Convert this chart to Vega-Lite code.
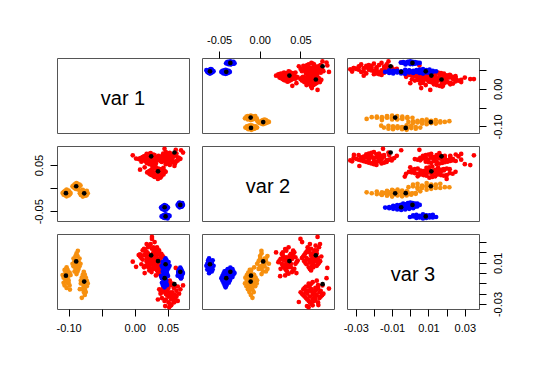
{
"$schema": "https://vega.github.io/schema/vega-lite/v6.json",
"padding": {"left": 32, "top": 33, "right": 5, "bottom": 5},
"columns": 3,
"spacing": 13,
"bounds": "flush",
"datasets": {
"pts": [
{"v1":0.006,"v2":0.063,"v3":0.0175,"g":"r"},{"v1":0.010,"v2":0.0658,"v3":0.0085,"g":"r"},{"v1":0.010,"v2":0.0574,"v3":0.0145,"g":"r"},{"v1":0.014,"v2":0.0686,"v3":0.0175,"g":"r"},{"v1":0.014,"v2":0.0602,"v3":0.0055,"g":"r"},{"v1":0.014,"v2":0.063,"v3":0.0235,"g":"r"},{"v1":0.018,"v2":0.0714,"v3":0.0145,"g":"r"},{"v1":0.018,"v2":0.0546,"v3":0.0175,"g":"r"},{"v1":0.018,"v2":0.0658,"v3":0.0115,"g":"r"},{"v1":0.018,"v2":0.0602,"v3":0.0205,"g":"r"},{"v1":0.022,"v2":0.0742,"v3":0.0115,"g":"r"},{"v1":0.022,"v2":0.0518,"v3":0.0145,"g":"r"},{"v1":0.022,"v2":0.063,"v3":0.0025,"g":"r"},{"v1":0.022,"v2":0.0686,"v3":0.0265,"g":"r"},{"v1":0.026,"v2":0.0574,"v3":0.0085,"g":"r"},{"v1":0.026,"v2":0.0686,"v3":0.0115,"g":"r"},{"v1":0.026,"v2":0.0602,"v3":0.0235,"g":"r"},{"v1":0.026,"v2":0.0658,"v3":0.0145,"g":"r"},{"v1":0.030,"v2":0.0546,"v3":0.0115,"g":"r"},{"v1":0.030,"v2":0.0574,"v3":0.0205,"g":"r"},{"v1":0.030,"v2":0.0714,"v3":0.0085,"g":"r"},{"v1":0.034,"v2":0.0602,"v3":0.0205,"g":"r"},{"v1":0.034,"v2":0.0658,"v3":0.0055,"g":"r"},{"v1":0.038,"v2":0.063,"v3":0.0175,"g":"r"},
{"v1":0.024,"v2":0.0616,"v3":0.004,"g":"r"},{"v1":0.028,"v2":0.07,"v3":0.007,"g":"r"},{"v1":0.016,"v2":0.0644,"v3":0.007,"g":"r"},{"v1":0.032,"v2":0.0616,"v3":0.010,"g":"r"},{"v1":0.020,"v2":0.0728,"v3":0.010,"g":"r"},{"v1":0.024,"v2":0.056,"v3":0.010,"g":"r"},{"v1":0.036,"v2":0.0644,"v3":0.013,"g":"r"},{"v1":0.012,"v2":0.0616,"v3":0.013,"g":"r"},{"v1":0.028,"v2":0.0672,"v3":0.013,"g":"r"},{"v1":0.020,"v2":0.0588,"v3":0.013,"g":"r"},{"v1":0.040,"v2":0.0672,"v3":0.016,"g":"r"},{"v1":0.008,"v2":0.0644,"v3":0.016,"g":"r"},{"v1":0.024,"v2":0.0756,"v3":0.016,"g":"r"},{"v1":0.032,"v2":0.0532,"v3":0.016,"g":"r"},{"v1":0.016,"v2":0.07,"v3":0.019,"g":"r"},{"v1":0.032,"v2":0.0672,"v3":0.019,"g":"r"},{"v1":0.020,"v2":0.056,"v3":0.019,"g":"r"},{"v1":0.028,"v2":0.0644,"v3":0.019,"g":"r"},{"v1":0.012,"v2":0.0672,"v3":0.022,"g":"r"},{"v1":0.016,"v2":0.0588,"v3":0.022,"g":"r"},{"v1":0.036,"v2":0.07,"v3":0.022,"g":"r"},{"v1":0.020,"v2":0.0588,"v3":0.025,"g":"r"},{"v1":0.028,"v2":0.0728,"v3":0.025,"g":"r"},{"v1":0.024,"v2":0.0616,"v3":0.028,"g":"r"},
{"v1":0.032,"v2":0.0312,"v3":-0.0023,"g":"r"},{"v1":0.0353,"v2":0.0396,"v3":0.0009,"g":"r"},{"v1":0.0254,"v2":0.034,"v3":0.0009,"g":"r"},{"v1":0.0386,"v2":0.0312,"v3":0.0041,"g":"r"},{"v1":0.0287,"v2":0.0424,"v3":0.0041,"g":"r"},{"v1":0.032,"v2":0.0256,"v3":0.0041,"g":"r"},{"v1":0.0419,"v2":0.034,"v3":0.0073,"g":"r"},{"v1":0.0221,"v2":0.0312,"v3":0.0073,"g":"r"},{"v1":0.0353,"v2":0.0368,"v3":0.0073,"g":"r"},{"v1":0.0287,"v2":0.0284,"v3":0.0073,"g":"r"},{"v1":0.0452,"v2":0.0368,"v3":0.0105,"g":"r"},{"v1":0.0188,"v2":0.034,"v3":0.0105,"g":"r"},{"v1":0.032,"v2":0.0452,"v3":0.0105,"g":"r"},{"v1":0.0386,"v2":0.0228,"v3":0.0105,"g":"r"},{"v1":0.0254,"v2":0.0396,"v3":0.0137,"g":"r"},{"v1":0.0386,"v2":0.0368,"v3":0.0137,"g":"r"},{"v1":0.0287,"v2":0.0256,"v3":0.0137,"g":"r"},{"v1":0.0353,"v2":0.034,"v3":0.0137,"g":"r"},{"v1":0.0221,"v2":0.0368,"v3":0.0169,"g":"r"},{"v1":0.0254,"v2":0.0284,"v3":0.0169,"g":"r"},{"v1":0.0419,"v2":0.0396,"v3":0.0169,"g":"r"},{"v1":0.0287,"v2":0.0284,"v3":0.0201,"g":"r"},{"v1":0.0353,"v2":0.0424,"v3":0.0201,"g":"r"},{"v1":0.032,"v2":0.0312,"v3":0.0233,"g":"r"},
{"v1":0.0303,"v2":0.0242,"v3":0.0121,"g":"r"},{"v1":0.0402,"v2":0.027,"v3":0.0089,"g":"r"},{"v1":0.0336,"v2":0.027,"v3":0.0185,"g":"r"},{"v1":0.0303,"v2":0.0298,"v3":0.0057,"g":"r"},{"v1":0.0435,"v2":0.0298,"v3":0.0153,"g":"r"},{"v1":0.0237,"v2":0.0298,"v3":0.0121,"g":"r"},{"v1":0.0336,"v2":0.0326,"v3":0.0025,"g":"r"},{"v1":0.0303,"v2":0.0326,"v3":0.0217,"g":"r"},{"v1":0.0369,"v2":0.0326,"v3":0.0089,"g":"r"},{"v1":0.027,"v2":0.0326,"v3":0.0153,"g":"r"},{"v1":0.0369,"v2":0.0354,"v3":-0.0007,"g":"r"},{"v1":0.0336,"v2":0.0354,"v3":0.0249,"g":"r"},{"v1":0.0468,"v2":0.0354,"v3":0.0121,"g":"r"},{"v1":0.0204,"v2":0.0354,"v3":0.0057,"g":"r"},{"v1":0.0402,"v2":0.0382,"v3":0.0185,"g":"r"},{"v1":0.0369,"v2":0.0382,"v3":0.0057,"g":"r"},{"v1":0.0237,"v2":0.0382,"v3":0.0153,"g":"r"},{"v1":0.0336,"v2":0.0382,"v3":0.0089,"g":"r"},{"v1":0.0369,"v2":0.041,"v3":0.0217,"g":"r"},{"v1":0.027,"v2":0.041,"v3":0.0185,"g":"r"},{"v1":0.0402,"v2":0.041,"v3":0.0025,"g":"r"},{"v1":0.027,"v2":0.0438,"v3":0.0153,"g":"r"},{"v1":0.0435,"v2":0.0438,"v3":0.0089,"g":"r"},{"v1":0.0303,"v2":0.0466,"v3":0.0121,"g":"r"},
{"v1":0.047,"v2":0.0518,"v3":-0.020,"g":"r"},{"v1":0.059,"v2":0.0551,"v3":-0.0228,"g":"r"},{"v1":0.051,"v2":0.0551,"v3":-0.0144,"g":"r"},{"v1":0.047,"v2":0.0584,"v3":-0.0256,"g":"r"},{"v1":0.063,"v2":0.0584,"v3":-0.0172,"g":"r"},{"v1":0.039,"v2":0.0584,"v3":-0.020,"g":"r"},{"v1":0.051,"v2":0.0617,"v3":-0.0284,"g":"r"},{"v1":0.047,"v2":0.0617,"v3":-0.0116,"g":"r"},{"v1":0.055,"v2":0.0617,"v3":-0.0228,"g":"r"},{"v1":0.043,"v2":0.0617,"v3":-0.0172,"g":"r"},{"v1":0.055,"v2":0.065,"v3":-0.0312,"g":"r"},{"v1":0.051,"v2":0.065,"v3":-0.0088,"g":"r"},{"v1":0.067,"v2":0.065,"v3":-0.020,"g":"r"},{"v1":0.035,"v2":0.065,"v3":-0.0256,"g":"r"},{"v1":0.059,"v2":0.0683,"v3":-0.0144,"g":"r"},{"v1":0.055,"v2":0.0683,"v3":-0.0256,"g":"r"},{"v1":0.039,"v2":0.0683,"v3":-0.0172,"g":"r"},{"v1":0.051,"v2":0.0683,"v3":-0.0228,"g":"r"},{"v1":0.055,"v2":0.0716,"v3":-0.0116,"g":"r"},{"v1":0.043,"v2":0.0716,"v3":-0.0144,"g":"r"},{"v1":0.059,"v2":0.0716,"v3":-0.0284,"g":"r"},{"v1":0.043,"v2":0.0749,"v3":-0.0172,"g":"r"},{"v1":0.063,"v2":0.0749,"v3":-0.0228,"g":"r"},{"v1":0.047,"v2":0.0782,"v3":-0.020,"g":"r"},
{"v1":0.037,"v2":0.0634,"v3":-0.0158,"g":"r"},{"v1":0.041,"v2":0.0667,"v3":-0.0242,"g":"r"},{"v1":0.041,"v2":0.0568,"v3":-0.0186,"g":"r"},{"v1":0.045,"v2":0.07,"v3":-0.0158,"g":"r"},{"v1":0.045,"v2":0.0601,"v3":-0.027,"g":"r"},{"v1":0.045,"v2":0.0634,"v3":-0.0102,"g":"r"},{"v1":0.049,"v2":0.0733,"v3":-0.0186,"g":"r"},{"v1":0.049,"v2":0.0535,"v3":-0.0158,"g":"r"},{"v1":0.049,"v2":0.0667,"v3":-0.0214,"g":"r"},{"v1":0.049,"v2":0.0601,"v3":-0.013,"g":"r"},{"v1":0.053,"v2":0.0766,"v3":-0.0214,"g":"r"},{"v1":0.053,"v2":0.0502,"v3":-0.0186,"g":"r"},{"v1":0.053,"v2":0.0634,"v3":-0.0298,"g":"r"},{"v1":0.053,"v2":0.07,"v3":-0.0074,"g":"r"},{"v1":0.057,"v2":0.0568,"v3":-0.0242,"g":"r"},{"v1":0.057,"v2":0.07,"v3":-0.0214,"g":"r"},{"v1":0.057,"v2":0.0601,"v3":-0.0102,"g":"r"},{"v1":0.057,"v2":0.0667,"v3":-0.0186,"g":"r"},{"v1":0.061,"v2":0.0535,"v3":-0.0214,"g":"r"},{"v1":0.061,"v2":0.0568,"v3":-0.013,"g":"r"},{"v1":0.061,"v2":0.0733,"v3":-0.0242,"g":"r"},{"v1":0.065,"v2":0.0601,"v3":-0.013,"g":"r"},{"v1":0.065,"v2":0.0667,"v3":-0.027,"g":"r"},{"v1":0.069,"v2":0.0634,"v3":-0.0158,"g":"r"},
{"v1":0.052,"v2":0.060,"v3":-0.033,"g":"r"},{"v1":0.055,"v2":0.072,"v3":-0.031,"g":"r"},{"v1":0.026,"v2":0.050,"v3":0.033,"g":"r"},{"v1":0.030,"v2":0.052,"v3":0.030,"g":"r"},{"v1":-0.003,"v2":0.071,"v3":0.011,"g":"r"},{"v1":0.002,"v2":0.064,"v3":0.006,"g":"r"},{"v1":0.073,"v2":0.077,"v3":-0.012,"g":"r"},{"v1":0.070,"v2":0.082,"v3":-0.005,"g":"r"},{"v1":0.026,"v2":0.071,"v3":0.035,"g":"r"},{"v1":0.046,"v2":0.058,"v3":-0.032,"g":"r"},{"v1":0.015,"v2":0.045,"v3":0.0,"g":"r"},{"v1":0.040,"v2":0.025,"v3":-0.003,"g":"r"},{"v1":0.062,"v2":0.083,"v3":0.005,"g":"r"},{"v1":0.018,"v2":0.074,"v3":0.028,"g":"r"},{"v1":0.008,"v2":0.040,"v3":0.018,"g":"r"},{"v1":0.060,"v2":0.048,"v3":-0.028,"g":"r"},{"v1":0.035,"v2":0.020,"v3":0.020,"g":"r"},{"v1":0.045,"v2":0.085,"v3":-0.015,"g":"r"},
{"v1":-0.109,"v2":-0.0105,"v3":-0.002,"g":"o"},{"v1":-0.1075,"v2":-0.0087,"v3":-0.0095,"g":"o"},{"v1":-0.1075,"v2":-0.0141,"v3":-0.0045,"g":"o"},{"v1":-0.106,"v2":-0.0069,"v3":-0.002,"g":"o"},{"v1":-0.106,"v2":-0.0123,"v3":-0.012,"g":"o"},{"v1":-0.106,"v2":-0.0105,"v3":0.003,"g":"o"},{"v1":-0.1045,"v2":-0.0051,"v3":-0.0045,"g":"o"},{"v1":-0.1045,"v2":-0.0159,"v3":-0.002,"g":"o"},{"v1":-0.1045,"v2":-0.0087,"v3":-0.007,"g":"o"},{"v1":-0.1045,"v2":-0.0123,"v3":0.0005,"g":"o"},{"v1":-0.103,"v2":-0.0033,"v3":-0.007,"g":"o"},{"v1":-0.103,"v2":-0.0177,"v3":-0.0045,"g":"o"},{"v1":-0.103,"v2":-0.0105,"v3":-0.0145,"g":"o"},{"v1":-0.103,"v2":-0.0069,"v3":0.0055,"g":"o"},{"v1":-0.1015,"v2":-0.0141,"v3":-0.0095,"g":"o"},{"v1":-0.1015,"v2":-0.0069,"v3":-0.007,"g":"o"},{"v1":-0.1015,"v2":-0.0123,"v3":0.003,"g":"o"},{"v1":-0.1015,"v2":-0.0087,"v3":-0.0045,"g":"o"},{"v1":-0.1,"v2":-0.0159,"v3":-0.007,"g":"o"},{"v1":-0.1,"v2":-0.0141,"v3":0.0005,"g":"o"},{"v1":-0.1,"v2":-0.0051,"v3":-0.0095,"g":"o"},{"v1":-0.0985,"v2":-0.0123,"v3":0.0005,"g":"o"},{"v1":-0.0985,"v2":-0.0087,"v3":-0.012,"g":"o"},{"v1":-0.097,"v2":-0.0105,"v3":-0.002,"g":"o"},
{"v1":-0.088,"v2":0.0022,"v3":-0.001,"g":"o"},{"v1":-0.0865,"v2":0.0076,"v3":0.0015,"g":"o"},{"v1":-0.091,"v2":0.004,"v3":0.0015,"g":"o"},{"v1":-0.085,"v2":0.0022,"v3":0.004,"g":"o"},{"v1":-0.0895,"v2":0.0094,"v3":0.004,"g":"o"},{"v1":-0.088,"v2":-0.0014,"v3":0.004,"g":"o"},{"v1":-0.0835,"v2":0.004,"v3":0.0065,"g":"o"},{"v1":-0.0925,"v2":0.0022,"v3":0.0065,"g":"o"},{"v1":-0.0865,"v2":0.0058,"v3":0.0065,"g":"o"},{"v1":-0.0895,"v2":0.0004,"v3":0.0065,"g":"o"},{"v1":-0.082,"v2":0.0058,"v3":0.009,"g":"o"},{"v1":-0.094,"v2":0.004,"v3":0.009,"g":"o"},{"v1":-0.088,"v2":0.0112,"v3":0.009,"g":"o"},{"v1":-0.085,"v2":-0.0032,"v3":0.009,"g":"o"},{"v1":-0.091,"v2":0.0076,"v3":0.0115,"g":"o"},{"v1":-0.085,"v2":0.0058,"v3":0.0115,"g":"o"},{"v1":-0.0895,"v2":-0.0014,"v3":0.0115,"g":"o"},{"v1":-0.0865,"v2":0.004,"v3":0.0115,"g":"o"},{"v1":-0.0925,"v2":0.0058,"v3":0.014,"g":"o"},{"v1":-0.091,"v2":0.0004,"v3":0.014,"g":"o"},{"v1":-0.0835,"v2":0.0076,"v3":0.014,"g":"o"},{"v1":-0.0895,"v2":0.0004,"v3":0.0165,"g":"o"},{"v1":-0.0865,"v2":0.0094,"v3":0.0165,"g":"o"},{"v1":-0.088,"v2":0.0022,"v3":0.019,"g":"o"},
{"v1":-0.0785,"v2":-0.0182,"v3":-0.010,"g":"o"},{"v1":-0.074,"v2":-0.0164,"v3":-0.0128,"g":"o"},{"v1":-0.077,"v2":-0.0164,"v3":-0.0044,"g":"o"},{"v1":-0.0785,"v2":-0.0146,"v3":-0.0156,"g":"o"},{"v1":-0.0725,"v2":-0.0146,"v3":-0.0072,"g":"o"},{"v1":-0.0815,"v2":-0.0146,"v3":-0.010,"g":"o"},{"v1":-0.077,"v2":-0.0128,"v3":-0.0184,"g":"o"},{"v1":-0.0785,"v2":-0.0128,"v3":-0.0016,"g":"o"},{"v1":-0.0755,"v2":-0.0128,"v3":-0.0128,"g":"o"},{"v1":-0.08,"v2":-0.0128,"v3":-0.0072,"g":"o"},{"v1":-0.0755,"v2":-0.011,"v3":-0.0212,"g":"o"},{"v1":-0.077,"v2":-0.011,"v3":0.0012,"g":"o"},{"v1":-0.071,"v2":-0.011,"v3":-0.010,"g":"o"},{"v1":-0.083,"v2":-0.011,"v3":-0.0156,"g":"o"},{"v1":-0.074,"v2":-0.0092,"v3":-0.0044,"g":"o"},{"v1":-0.0755,"v2":-0.0092,"v3":-0.0156,"g":"o"},{"v1":-0.0815,"v2":-0.0092,"v3":-0.0072,"g":"o"},{"v1":-0.077,"v2":-0.0092,"v3":-0.0128,"g":"o"},{"v1":-0.0755,"v2":-0.0074,"v3":-0.0016,"g":"o"},{"v1":-0.08,"v2":-0.0074,"v3":-0.0044,"g":"o"},{"v1":-0.074,"v2":-0.0074,"v3":-0.0184,"g":"o"},{"v1":-0.08,"v2":-0.0056,"v3":-0.0072,"g":"o"},{"v1":-0.0725,"v2":-0.0056,"v3":-0.0128,"g":"o"},{"v1":-0.0785,"v2":-0.0038,"v3":-0.010,"g":"o"},
{"v1":-0.086,"v2":0.002,"v3":0.0215,"g":"o"},{"v1":-0.080,"v2":-0.009,"v3":-0.024,"g":"o"},{"v1":-0.098,"v2":-0.013,"v3":-0.016,"g":"o"},
{"v1":0.0398,"v2":-0.042,"v3":-0.0028,"g":"b"},{"v1":0.0411,"v2":-0.0407,"v3":-0.0094,"g":"b"},{"v1":0.0411,"v2":-0.0446,"v3":-0.005,"g":"b"},{"v1":0.0424,"v2":-0.0394,"v3":-0.0028,"g":"b"},{"v1":0.0424,"v2":-0.0433,"v3":-0.0116,"g":"b"},{"v1":0.0424,"v2":-0.042,"v3":0.0016,"g":"b"},{"v1":0.0437,"v2":-0.0381,"v3":-0.005,"g":"b"},{"v1":0.0437,"v2":-0.0459,"v3":-0.0028,"g":"b"},{"v1":0.0437,"v2":-0.0407,"v3":-0.0072,"g":"b"},{"v1":0.0437,"v2":-0.0433,"v3":-0.0006,"g":"b"},{"v1":0.045,"v2":-0.0368,"v3":-0.0072,"g":"b"},{"v1":0.045,"v2":-0.0472,"v3":-0.005,"g":"b"},{"v1":0.045,"v2":-0.042,"v3":-0.0138,"g":"b"},{"v1":0.045,"v2":-0.0394,"v3":0.0038,"g":"b"},{"v1":0.0463,"v2":-0.0446,"v3":-0.0094,"g":"b"},{"v1":0.0463,"v2":-0.0394,"v3":-0.0072,"g":"b"},{"v1":0.0463,"v2":-0.0433,"v3":0.0016,"g":"b"},{"v1":0.0463,"v2":-0.0407,"v3":-0.005,"g":"b"},{"v1":0.0476,"v2":-0.0459,"v3":-0.0072,"g":"b"},{"v1":0.0476,"v2":-0.0446,"v3":-0.0006,"g":"b"},{"v1":0.0476,"v2":-0.0381,"v3":-0.0094,"g":"b"},{"v1":0.0489,"v2":-0.0433,"v3":-0.0006,"g":"b"},{"v1":0.0489,"v2":-0.0407,"v3":-0.0116,"g":"b"},{"v1":0.0502,"v2":-0.042,"v3":-0.0028,"g":"b"},
{"v1":0.0466,"v2":-0.0623,"v3":-0.0002,"g":"b"},{"v1":0.0481,"v2":-0.059,"v3":0.0016,"g":"b"},{"v1":0.0436,"v2":-0.0612,"v3":0.0016,"g":"b"},{"v1":0.0496,"v2":-0.0623,"v3":0.0034,"g":"b"},{"v1":0.0451,"v2":-0.0579,"v3":0.0034,"g":"b"},{"v1":0.0466,"v2":-0.0645,"v3":0.0034,"g":"b"},{"v1":0.0511,"v2":-0.0612,"v3":0.0052,"g":"b"},{"v1":0.0421,"v2":-0.0623,"v3":0.0052,"g":"b"},{"v1":0.0481,"v2":-0.0601,"v3":0.0052,"g":"b"},{"v1":0.0451,"v2":-0.0634,"v3":0.0052,"g":"b"},{"v1":0.0526,"v2":-0.0601,"v3":0.007,"g":"b"},{"v1":0.0406,"v2":-0.0612,"v3":0.007,"g":"b"},{"v1":0.0466,"v2":-0.0568,"v3":0.007,"g":"b"},{"v1":0.0496,"v2":-0.0656,"v3":0.007,"g":"b"},{"v1":0.0436,"v2":-0.059,"v3":0.0088,"g":"b"},{"v1":0.0496,"v2":-0.0601,"v3":0.0088,"g":"b"},{"v1":0.0451,"v2":-0.0645,"v3":0.0088,"g":"b"},{"v1":0.0481,"v2":-0.0612,"v3":0.0088,"g":"b"},{"v1":0.0421,"v2":-0.0601,"v3":0.0106,"g":"b"},{"v1":0.0436,"v2":-0.0634,"v3":0.0106,"g":"b"},{"v1":0.0511,"v2":-0.059,"v3":0.0106,"g":"b"},{"v1":0.0451,"v2":-0.0634,"v3":0.0124,"g":"b"},{"v1":0.0481,"v2":-0.0579,"v3":0.0124,"g":"b"},{"v1":0.0466,"v2":-0.0623,"v3":0.0142,"g":"b"},
{"v1":0.0678,"v2":-0.0414,"v3":0,"g":"b"},{"v1":0.0708,"v2":-0.0401,"v3":-0.0013,"g":"b"},{"v1":0.0688,"v2":-0.0401,"v3":0.0026,"g":"b"},{"v1":0.0678,"v2":-0.0388,"v3":-0.0026,"g":"b"},{"v1":0.0718,"v2":-0.0388,"v3":0.0013,"g":"b"},{"v1":0.0658,"v2":-0.0388,"v3":0,"g":"b"},{"v1":0.0688,"v2":-0.0375,"v3":-0.0039,"g":"b"},{"v1":0.0678,"v2":-0.0375,"v3":0.0039,"g":"b"},{"v1":0.0698,"v2":-0.0375,"v3":-0.0013,"g":"b"},{"v1":0.0668,"v2":-0.0375,"v3":0.0013,"g":"b"},{"v1":0.0698,"v2":-0.0362,"v3":-0.0052,"g":"b"},{"v1":0.0688,"v2":-0.0362,"v3":0.0052,"g":"b"},{"v1":0.0728,"v2":-0.0362,"v3":0,"g":"b"},{"v1":0.0648,"v2":-0.0362,"v3":-0.0026,"g":"b"},{"v1":0.0708,"v2":-0.0349,"v3":0.0026,"g":"b"},{"v1":0.0698,"v2":-0.0349,"v3":-0.0026,"g":"b"},{"v1":0.0658,"v2":-0.0349,"v3":0.0013,"g":"b"},{"v1":0.0688,"v2":-0.0349,"v3":-0.0013,"g":"b"},{"v1":0.0698,"v2":-0.0336,"v3":0.0039,"g":"b"},{"v1":0.0668,"v2":-0.0336,"v3":0.0026,"g":"b"},{"v1":0.0708,"v2":-0.0336,"v3":-0.0039,"g":"b"},{"v1":0.0668,"v2":-0.0323,"v3":0.0013,"g":"b"},{"v1":0.0718,"v2":-0.0323,"v3":-0.0013,"g":"b"},{"v1":0.0678,"v2":-0.031,"v3":0,"g":"b"},
{"v1":-0.104,"v2":-0.0108,"v3":-0.0025,"g":"k"},{"v1":-0.0885,"v2":0.0042,"v3":0.0113,"g":"k"},{"v1":-0.0764,"v2":-0.0112,"v3":-0.0083,"g":"k"},{"v1":0.0248,"v2":0.0689,"v3":0.0172,"g":"k"},{"v1":0.0352,"v2":0.0364,"v3":0.0116,"g":"k"},{"v1":0.060,"v2":0.0772,"v3":-0.0108,"g":"k"},{"v1":0.0452,"v2":-0.0412,"v3":-0.005,"g":"k"},{"v1":0.0466,"v2":-0.0612,"v3":0.0085,"g":"k"},{"v1":0.0688,"v2":-0.0362,"v3":0.0012,"g":"k"}
]
},
"concat": [
{"width":132,"height":75,"data":{"values":[{"t":"var 1"}]},"mark":{"type":"text","fontSize":20,"font":"Liberation Sans","color":"#000","dy":3},
 "encoding":{"text":{"field":"t"},"x":{"datum":-0.01775,"type":"quantitative","scale":{"domain":[-0.1175,0.082],"nice":false,"zero":false},"axis":null},"y":{"datum":-0.01775,"type":"quantitative","scale":{"domain":[-0.1175,0.082],"nice":false,"zero":false},"axis":null}}},
{"width":132,"height":75,"data":{"name":"pts"},"mark":{"type":"circle","opacity":1},
 "encoding":{"x":{"field":"v2","type":"quantitative","scale":{"domain":[-0.071,0.0912],"nice":false,"zero":false},"axis":{"orient":"top","title":null,"values":[-0.05,0,0.05],"labelExpr":"(datum.value<0?'-':'')+format(abs(datum.value),'.2f')"}},
 "y":{"field":"v1","type":"quantitative","scale":{"domain":[-0.1175,0.082],"nice":false,"zero":false},"axis":null},
 "color":{"field":"g","type":"nominal","scale":{"domain":["r","o","b","k"],"range":["#FF0000","#F7900F","#0000FF","#000000"]},"legend":null},
 "size":{"field":"g","type":"ordinal","scale":{"domain":["r","o","b","k"],"range":[22,22,22,30]},"legend":null}}},
{"width":132,"height":75,"data":{"name":"pts"},"mark":{"type":"circle","opacity":1},
 "encoding":{"x":{"field":"v3","type":"quantitative","scale":{"domain":[-0.0348,0.0378],"nice":false,"zero":false},"axis":null},
 "y":{"field":"v1","type":"quantitative","scale":{"domain":[-0.1175,0.082],"nice":false,"zero":false},"axis":{"orient":"right","title":null,"values":[-0.1,-0.05,0,0.05],"labelAngle":-90,"labelExpr":"(abs(datum.value)<1e-9||abs(datum.value+0.1)<1e-9)?((datum.value<0?'-':'')+format(abs(datum.value),'.2f')):''"}},
 "color":{"field":"g","type":"nominal","scale":{"domain":["r","o","b","k"],"range":["#FF0000","#F7900F","#0000FF","#000000"]},"legend":null},
 "size":{"field":"g","type":"ordinal","scale":{"domain":["r","o","b","k"],"range":[22,22,22,30]},"legend":null}}},
{"width":132,"height":75,"data":{"name":"pts"},"mark":{"type":"circle","opacity":1},
 "encoding":{"x":{"field":"v1","type":"quantitative","scale":{"domain":[-0.1175,0.082],"nice":false,"zero":false},"axis":null},
 "y":{"field":"v2","type":"quantitative","scale":{"domain":[-0.071,0.0912],"nice":false,"zero":false},"axis":{"orient":"left","title":null,"values":[-0.05,0,0.05],"labelAngle":-90,"labelExpr":"abs(datum.value)>1e-9?((datum.value<0?'-':'')+format(abs(datum.value),'.2f')):''"}},
 "color":{"field":"g","type":"nominal","scale":{"domain":["r","o","b","k"],"range":["#FF0000","#F7900F","#0000FF","#000000"]},"legend":null},
 "size":{"field":"g","type":"ordinal","scale":{"domain":["r","o","b","k"],"range":[22,22,22,30]},"legend":null}}},
{"width":132,"height":75,"data":{"values":[{"t":"var 2"}]},"mark":{"type":"text","fontSize":20,"font":"Liberation Sans","color":"#000","dy":3},
 "encoding":{"text":{"field":"t"},"x":{"datum":0.0101,"type":"quantitative","scale":{"domain":[-0.071,0.0912],"nice":false,"zero":false},"axis":null},"y":{"datum":0.0101,"type":"quantitative","scale":{"domain":[-0.071,0.0912],"nice":false,"zero":false},"axis":null}}},
{"width":132,"height":75,"data":{"name":"pts"},"mark":{"type":"circle","opacity":1},
 "encoding":{"x":{"field":"v3","type":"quantitative","scale":{"domain":[-0.0348,0.0378],"nice":false,"zero":false},"axis":null},
 "y":{"field":"v2","type":"quantitative","scale":{"domain":[-0.071,0.0912],"nice":false,"zero":false},"axis":null},
 "color":{"field":"g","type":"nominal","scale":{"domain":["r","o","b","k"],"range":["#FF0000","#F7900F","#0000FF","#000000"]},"legend":null},
 "size":{"field":"g","type":"ordinal","scale":{"domain":["r","o","b","k"],"range":[22,22,22,30]},"legend":null}}},
{"width":132,"height":75,"data":{"name":"pts"},"mark":{"type":"circle","opacity":1},
 "encoding":{"x":{"field":"v1","type":"quantitative","scale":{"domain":[-0.1175,0.082],"nice":false,"zero":false},"axis":{"orient":"bottom","title":null,"values":[-0.1,-0.05,0,0.05],"labelExpr":"abs(datum.value+0.05)>1e-9?((datum.value<0?'-':'')+format(abs(datum.value),'.2f')):''"}},
 "y":{"field":"v3","type":"quantitative","scale":{"domain":[-0.0348,0.0378],"nice":false,"zero":false},"axis":null},
 "color":{"field":"g","type":"nominal","scale":{"domain":["r","o","b","k"],"range":["#FF0000","#F7900F","#0000FF","#000000"]},"legend":null},
 "size":{"field":"g","type":"ordinal","scale":{"domain":["r","o","b","k"],"range":[22,22,22,30]},"legend":null}}},
{"width":132,"height":75,"data":{"name":"pts"},"mark":{"type":"circle","opacity":1},
 "encoding":{"x":{"field":"v2","type":"quantitative","scale":{"domain":[-0.071,0.0912],"nice":false,"zero":false},"axis":null},
 "y":{"field":"v3","type":"quantitative","scale":{"domain":[-0.0348,0.0378],"nice":false,"zero":false},"axis":null},
 "color":{"field":"g","type":"nominal","scale":{"domain":["r","o","b","k"],"range":["#FF0000","#F7900F","#0000FF","#000000"]},"legend":null},
 "size":{"field":"g","type":"ordinal","scale":{"domain":["r","o","b","k"],"range":[22,22,22,30]},"legend":null}}},
{"width":132,"height":75,"data":{"values":[{"t":"var 3"}]},"mark":{"type":"text","fontSize":20,"font":"Liberation Sans","color":"#000","dy":3},
 "encoding":{"text":{"field":"t"},
 "x":{"datum":0.0015,"type":"quantitative","scale":{"domain":[-0.0348,0.0378],"nice":false,"zero":false},"axis":{"orient":"bottom","title":null,"values":[-0.03,-0.02,-0.01,0,0.01,0.02,0.03],"labelExpr":"(abs(abs(datum.value)-0.01)<1e-9||abs(abs(datum.value)-0.03)<1e-9)?((datum.value<0?'-':'')+format(abs(datum.value),'.2f')):''"}},
 "y":{"datum":0.0015,"type":"quantitative","scale":{"domain":[-0.0348,0.0378],"nice":false,"zero":false},"axis":{"orient":"right","title":null,"values":[-0.03,-0.02,-0.01,0,0.01,0.02,0.03],"labelAngle":-90,"labelExpr":"(abs(datum.value-0.01)<1e-9||abs(datum.value+0.03)<1e-9)?((datum.value<0?'-':'')+format(abs(datum.value),'.2f')):''"}}}}
],
"config": {
 "view": {"stroke": "#555555", "strokeWidth": 1},
 "axis": {"domain": false, "grid": false, "ticks": true, "tickColor": "#000000", "tickSize": 7, "labelFont": "Liberation Sans", "labelFontSize": 11, "labelColor": "#000000", "labelPadding": 6, "labelFlush": false, "labelOverlap": false}
}
}
